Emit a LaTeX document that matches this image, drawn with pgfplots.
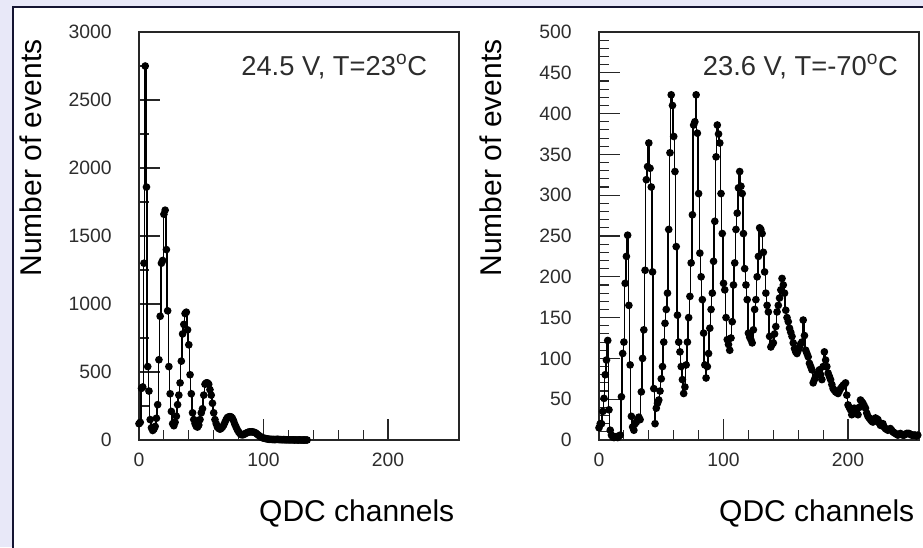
\documentclass[border=0pt]{standalone}
\usepackage{fontspec}
\setmainfont{Liberation Sans}
\usepackage{pgfplots}
\pgfplotsset{compat=1.18}

\definecolor{bgpanel}{RGB}{232,232,248}
\definecolor{framec}{RGB}{20,20,50}
\definecolor{ticklab}{RGB}{45,45,45}

\pgfplotsset{
  qdc/.style={
    scale only axis, width=240pt, height=306pt,
    anchor=south west,
    xmin=0, xmax=257,
    xtick={0,100,200}, minor x tick num=4,
    tick align=inside, tick pos=left,
    major tick length=15.5pt, minor tick length=7.5pt,
    axis line style={line width=0.85pt, black!85},
    every tick/.style={black!85, line width=0.85pt},
    tick label style={font=\fontsize{14.5}{14.5}\selectfont, text=ticklab},
    /pgf/number format/assume math mode=true,
    /pgf/number format/set thousands separator={},
    xticklabel shift=6pt, yticklabel shift=17pt,
    scaled ticks=false,
    xlabel={QDC channels}, ylabel={Number of events},
    label style={font=\fontsize{22.5}{22.5}\selectfont},
    xlabel style={at={(axis description cs:1,0)}, anchor=base east, yshift=-61pt},
    ylabel style={at={(axis description cs:-0.306,0.993)}, anchor=base east},
  },
  histo/.style={const plot mark mid, black, line width=1.1pt,
    mark=*, mark size=2.3pt, mark options={solid}},
}

\begin{document}
\begin{tikzpicture}
\useasboundingbox (0,0) rectangle (692.25pt,410.25pt);
\fill[bgpanel] (0,0) rectangle (692.25pt,410.25pt);
\filldraw[fill=white, draw=framec, line width=1.5pt] (9.4pt,-10pt) rectangle (720pt,405.2pt);

% 24.5 V, room temperature
\begin{axis}[qdc, at={(104.25pt,80.25pt)},
  ymin=0, ymax=3000, ytick={0,500,...,3000}, minor y tick num=1]
\addplot[histo] coordinates {
(0,120) (1,130) (2,380) (3,390) (4,1300) (5,2750) (6,1860) (7,540) (8,360) (9,150)
(10,90) (11,70) (12,80) (13,100) (14,160) (15,260) (16,590) (17,910) (18,1300) (19,1320)
(20,1660) (21,1690) (22,1400) (23,950) (24,540) (25,340) (26,210) (27,120) (28,105) (29,130)
(30,175) (31,260) (32,330) (33,420) (34,580) (35,780) (36,850) (37,930) (38,940) (39,810)
(40,700) (41,480) (42,340) (43,200) (44,150) (45,120) (46,100) (47,95) (48,110) (49,150)
(50,200) (51,230) (52,330) (53,410) (54,420) (55,420) (56,410) (57,370) (58,330) (59,270)
(60,200) (61,150) (62,120) (63,95) (64,85) (65,80) (66,85) (67,95) (68,110) (69,130)
(70,150) (71,165) (72,170) (73,172) (74,170) (75,160) (76,140) (77,115) (78,95) (79,75)
(80,60) (81,48) (82,40) (83,38) (84,40) (85,45) (86,50) (87,55) (88,58) (89,60)
(90,60) (91,60) (92,58) (93,55) (94,50) (95,42) (96,35) (97,28) (98,22) (99,17)
(100,14) (101,12) (102,10) (103,8) (104,6) (105,5) (106,5) (107,4) (108,4) (109,3)
(110,4) (111,5) (112,4) (113,3) (114,3) (115,2) (116,3) (117,2) (118,2) (119,1)
(120,2) (121,1) (122,1) (123,1) (124,1) (125,0) (126,1) (127,0) (128,0) (129,1)
(130,0) (131,0) (132,0) (133,0) (134,0) (135,0)
};
\node[anchor=base west, font=\fontsize{20.5}{20.5}\selectfont, text=ticklab]
  at (axis description cs:0.305,0.8946) {24.5 V, T=23\textsuperscript{o}C};
\end{axis}

% 23.6 V, -70 C
\begin{axis}[qdc, at={(449.25pt,80.25pt)},
  ymin=0, ymax=500, ytick={0,50,...,500}, minor y tick num=4]
\addplot[histo] coordinates {
(0,15) (1,20) (2,20) (3,35) (4,51) (5,80) (6,98) (7,122) (8,37) (9,12)
(10,6) (11,4) (12,3) (13,4) (14,4) (15,3) (16,5) (17,6) (18,53) (19,106)
(20,120) (21,192) (22,225) (23,251) (24,165) (25,92) (26,29) (27,16) (28,12) (29,20)
(30,22) (31,25) (32,28) (33,25) (34,59) (35,100) (36,135) (37,208) (38,319) (39,335)
(40,364) (41,333) (42,310) (43,206) (44,63) (45,20) (46,39) (47,45) (48,49) (49,60)
(50,75) (51,90) (52,120) (53,143) (54,160) (55,180) (56,258) (57,352) (58,423) (59,410)
(60,372) (61,329) (62,237) (63,153) (64,120) (65,108) (66,90) (67,74) (68,57) (69,65)
(70,92) (71,120) (72,150) (73,176) (74,217) (75,276) (76,386) (77,390) (78,423) (79,376)
(80,302) (81,229) (82,200) (83,172) (84,131) (85,92) (86,76) (87,90) (88,106) (89,137)
(90,160) (91,180) (92,219) (93,268) (94,347) (95,386) (96,375) (97,364) (98,302) (99,253)
(100,192) (101,184) (102,150) (103,123) (104,117) (105,110) (106,125) (107,145) (108,190) (109,217)
(110,258) (111,278) (112,309) (113,329) (114,311) (115,302) (116,253) (117,210) (118,190) (119,172)
(120,131) (121,126) (122,123) (123,119) (124,135) (125,160) (126,172) (127,200) (128,225) (129,260)
(130,258) (131,253) (132,230) (133,206) (134,180) (135,165) (136,157) (137,127) (138,114) (139,117)
(140,119) (141,130) (142,139) (143,157) (144,165) (145,174) (146,184) (147,198) (148,190) (149,180)
(150,159) (151,150) (152,145) (153,137) (154,132) (155,127) (156,119) (157,112) (158,108) (159,106)
(160,110) (161,114) (162,118) (163,120) (164,147) (165,128) (166,110) (167,106) (168,102) (169,94)
(170,90) (171,86) (172,70) (173,74) (174,78) (175,80) (176,82) (177,86) (178,80) (179,74)
(180,90) (181,108) (182,98) (183,90) (184,82) (185,78) (186,74) (187,68) (188,63) (189,61)
(190,59) (191,58) (192,57) (193,60) (194,63) (195,65) (196,67) (197,68) (198,70) (199,55)
(200,43) (201,40) (202,37) (203,31) (204,35) (205,39) (206,38) (207,37) (208,31) (209,40)
(210,49) (211,47) (212,45) (213,42) (214,39) (215,33) (216,29) (217,27) (218,25) (219,23)
(220,22) (221,25) (222,27) (223,26) (224,25) (225,21) (226,18) (227,19) (228,20) (229,16)
(230,14) (231,13) (232,12) (233,13) (234,14) (235,12) (236,10) (237,9) (238,8) (239,7)
(240,6) (241,7) (242,8) (243,7) (244,6) (245,6) (246,7) (247,8) (248,8) (249,8)
(250,7) (251,6) (252,6) (253,6) (254,6) (255,5) (256,6)
};
\node[anchor=base west, font=\fontsize{20.5}{20.5}\selectfont, text=ticklab]
  at (axis description cs:0.31,0.8946) {23.6 V, T=-70\textsuperscript{o}C};
\end{axis}
\end{tikzpicture}
\end{document}
